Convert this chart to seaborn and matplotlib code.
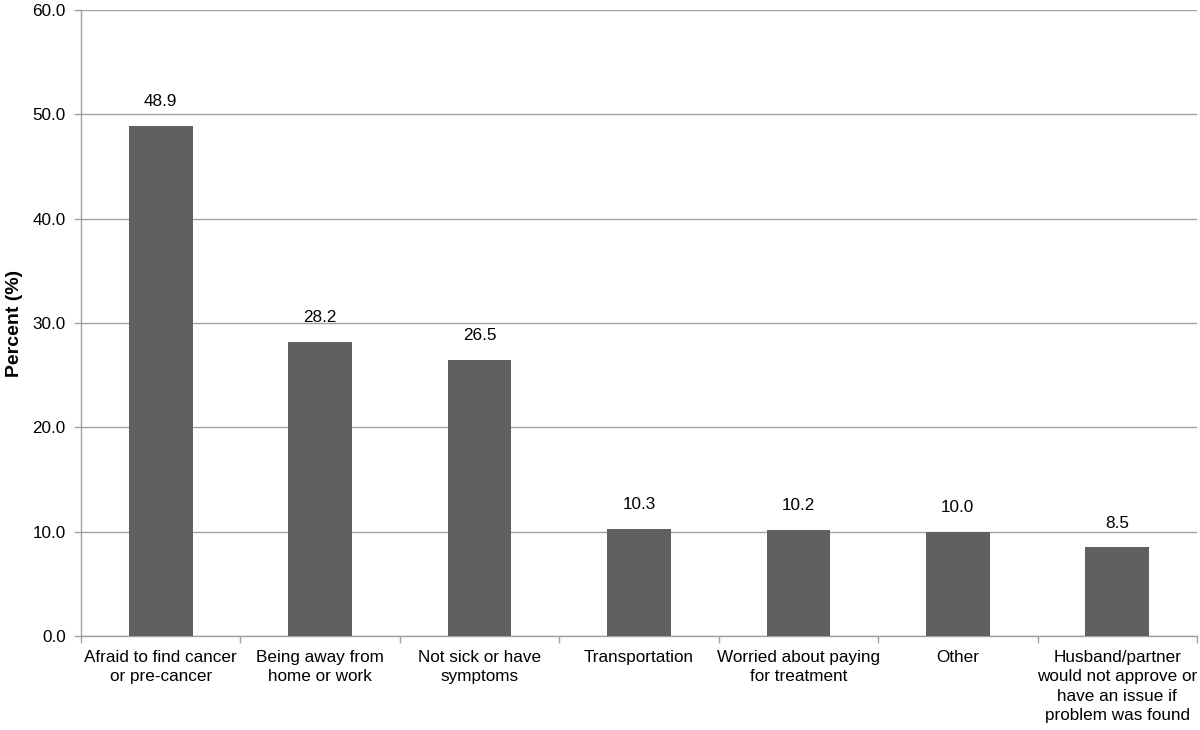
import pandas as pd
import seaborn as sns
import matplotlib.pyplot as plt
import numpy as np

# Reasons for not getting screened
reasons = [
    "Afraid to find cancer\nor pre-cancer",
    "Being away from\nhome or work",
    "Not sick or have\nsymptoms",
    "Transportation",
    "Worried about paying\nfor treatment",
    "Other",
    "Husband/partner\nwould not approve or\nhave an issue if\nproblem was found",
]
percents = [48.9, 28.2, 26.5, 10.3, 10.2, 10.0, 8.5]

df = pd.DataFrame({"reason": reasons, "percent": percents})

sns.set_style("white")
plt.rcParams["font.family"] = ["Liberation Sans", "DejaVu Sans"]

fig = plt.figure(figsize=(12, 7.3), dpi=100)
ax = fig.add_axes([0.0675, 0.1288, 0.93, 0.8575])

sns.barplot(data=df, x="reason", y="percent", color="#606060", saturation=1,
            width=0.4, linewidth=0, edgecolor="none", ax=ax, zorder=3)

for p, v in zip(ax.patches, percents):
    ax.text(p.get_x() + p.get_width() / 2, v + 1.6, f"{v:.1f}",
            ha="center", va="bottom", fontsize=12.3, color="black", zorder=4)

ax.set_ylim(0, 60)
ax.set_xlim(-0.5, len(reasons) - 0.5)
ax.set_yticks(np.arange(0, 61, 10))
ax.set_yticklabels([f"{t:.1f}" for t in np.arange(0, 61, 10)], fontsize=12.3,
                   color="black")
ax.yaxis.grid(True, color="#a0a0a0", linewidth=1, zorder=0)

# category labels centred, tick marks on the category boundaries
ax.set_xticks(range(len(reasons)))
ax.set_xticklabels(reasons, fontsize=12.3, color="black", linespacing=1.36,
                   va="top")
ax.tick_params(axis="x", which="major", length=0, pad=10)
ax.set_xticks(np.arange(-0.5, len(reasons)), minor=True)
ax.tick_params(axis="x", which="minor", bottom=True, length=5,
               color="#a0a0a0", width=1)
ax.tick_params(axis="y", left=True, length=5, color="#a0a0a0", width=1, pad=6)

for side in ["top", "right"]:
    ax.spines[side].set_visible(False)
for side in ["left", "bottom"]:
    ax.spines[side].set_color("#a0a0a0")
    ax.spines[side].set_linewidth(1)

ax.set_xlabel("")
ax.set_ylabel("Percent (%)", fontsize=14, fontweight="bold", labelpad=7,
              color="black")

plt.savefig("out.png", dpi=100)
plt.close()
